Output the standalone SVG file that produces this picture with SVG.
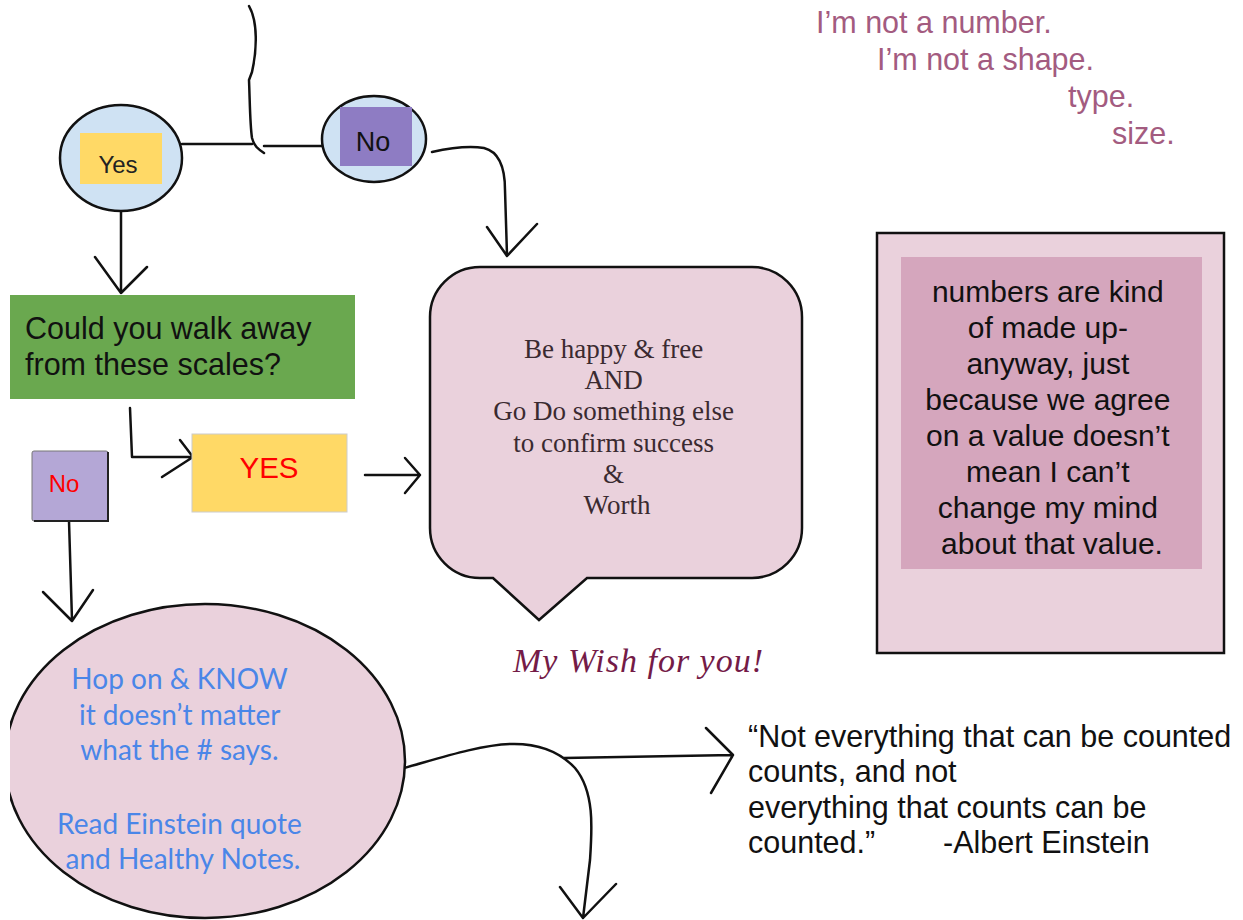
<svg xmlns="http://www.w3.org/2000/svg" width="1243" height="920" viewBox="0 0 1243 920">
<style>
.ln{fill:none;stroke:#111;stroke-width:2.5;stroke-linecap:round;stroke-linejoin:round}
.sans{font-family:"Liberation Sans",Arial,sans-serif}
.serif{font-family:"Liberation Serif","Times New Roman",serif}
.hum{font-family:Lato,"Open Sans",sans-serif}
</style>
<defs>
  <clipPath id="clipLeft"><rect x="10" y="0" width="1233" height="920"/></clipPath>
</defs>
<rect width="1243" height="920" fill="#ffffff"/>

<g id="connectors">
  <path class="ln" d="M249,6 C258,22 257,50 252,72 L249,80 C250,105 250,125 252,138 C254,146 258,149 264,153"/>
  <path class="ln" d="M182,144 H252"/>
  <path class="ln" d="M264,146 H322"/>
  <path class="ln" d="M121,211 V293 M95,257 L121,293 L147,267"/>
  <path class="ln" d="M432,152 C450,148 470,146 484,148 C500,152 505,170 505,190 L507,255 M487,227 L507,256 L537,224"/>
  <path class="ln" d="M130,408 L132,457 H193 M180,440 L193,457 L162,477"/>
  <path class="ln" d="M69,521 L72,620 M43,592 L72,621 L93,590"/>
  <path class="ln" d="M365,475 H420 M405,458 L420,475 L405,493"/>
  <path class="ln" d="M404,768 C440,758 480,745 510,744 C540,743 560,752 575,768 C595,792 592,830 590,860 L583,918 M560,887 L583,918 L616,884"/>
  <path class="ln" d="M564,758 L733,755 M706,728 L733,755 L711,793"/>
</g>

<g id="yes-circle">
  <ellipse cx="121" cy="158" rx="61" ry="53" fill="#cfe2f3" stroke="#111" stroke-width="2.5"/>
  <rect x="80" y="133" width="82" height="51" fill="#ffd966"/>
  <text x="118" y="173" class="sans" font-size="24" text-anchor="middle" fill="#222">Yes</text>
</g>

<g id="no-circle">
  <ellipse cx="374" cy="139" rx="52" ry="43" fill="#cfe2f3" stroke="#111" stroke-width="2.5"/>
  <rect x="340" y="107" width="72" height="59" fill="#8e7cc3"/>
  <text x="373" y="151" class="sans" font-size="27" text-anchor="middle" fill="#111">No</text>
</g>

<g id="question">
  <rect x="10" y="295" width="345" height="104" fill="#6aa84f"/>
  <text class="sans" font-size="30.5" fill="#111"><tspan x="25" y="339">Could you walk away</tspan><tspan x="25" y="375">from these scales?</tspan></text>
</g>

<g id="yes-box">
  <rect x="192" y="434" width="155" height="78" fill="#ffd966" stroke="#cccccc" stroke-width="1"/>
  <text x="269" y="478" class="sans" font-size="29.5" text-anchor="middle" fill="#ff0000">YES</text>
</g>

<g id="no-box">
  <rect x="32" y="451" width="76" height="70" rx="2" fill="#b4a7d6" stroke="#777" stroke-width="1"/>
  <path d="M108,452 V521 H34" fill="none" stroke="#222" stroke-width="2"/>
  <text x="64" y="492" class="sans" font-size="24" text-anchor="middle" fill="#ff0000">No</text>
</g>

<g id="wish-bubble">
  <path d="M480,267 H752 A50,50 0 0 1 802,317 V528 A50,50 0 0 1 752,578 H587 L539,620 L493,578 H480 A50,50 0 0 1 430,528 V317 A50,50 0 0 1 480,267 Z" fill="#ead1dc" stroke="#111" stroke-width="2.5"/>
  <text class="serif" font-size="27" text-anchor="middle" fill="#3a2a30">
    <tspan x="617" y="358">Be happy &amp; free</tspan>
    <tspan x="617" y="389">AND</tspan>
    <tspan x="617" y="420">Go Do something else</tspan>
    <tspan x="617" y="452">to confirm success</tspan>
    <tspan x="617" y="483">&amp;</tspan>
    <tspan x="617" y="514">Worth</tspan>
  </text>
</g>

<g id="wish-caption">
  <text x="513" y="672" class="serif" font-size="34" font-style="italic" fill="#741b47" textLength="250">My Wish for you!</text>
</g>

<g id="top-right-text">
  <text class="sans" font-size="30.5" fill="#a35b80">
    <tspan x="816" y="33">I’m not a number.</tspan>
    <tspan x="877" y="70">I’m not a shape.</tspan>
    <tspan x="1068" y="107">type.</tspan>
    <tspan x="1112" y="144">size.</tspan>
  </text>
</g>

<g id="numbers-box">
  <rect x="877" y="233" width="347" height="420" fill="#ead1dc" stroke="#111" stroke-width="2.5"/>
  <rect x="901" y="257" width="301" height="312" fill="#d5a6bd"/>
  <text class="sans" font-size="30" text-anchor="middle" fill="#111">
    <tspan x="1052" y="302">numbers are kind</tspan>
    <tspan x="1052" y="338">of made up-</tspan>
    <tspan x="1052" y="374">anyway, just</tspan>
    <tspan x="1052" y="410">because we agree</tspan>
    <tspan x="1052" y="446">on a value doesn’t</tspan>
    <tspan x="1052" y="482">mean I can’t</tspan>
    <tspan x="1052" y="518">change my mind</tspan>
    <tspan x="1052" y="554">about that value.</tspan>
  </text>
</g>

<g id="hop-on">
  <ellipse cx="205" cy="761" rx="200" ry="157" fill="#ead1dc" stroke="#111" stroke-width="2.5" clip-path="url(#clipLeft)"/>
  <text class="hum" font-size="28" text-anchor="middle" fill="#4a86e8">
    <tspan x="183" y="689">Hop on &amp; KNOW</tspan>
    <tspan x="183" y="725">it doesn’t matter</tspan>
    <tspan x="183" y="760">what the # says.</tspan>
    <tspan x="183" y="834">Read Einstein quote</tspan>
    <tspan x="183" y="869">and Healthy Notes.</tspan>
  </text>
</g>

<g id="einstein-quote">
  <text class="sans" font-size="30.5" fill="#111">
    <tspan x="748" y="747">“Not everything that can be counted</tspan>
    <tspan x="748" y="782">counts, and not</tspan>
    <tspan x="748" y="818">everything that counts can be</tspan>
    <tspan x="748" y="853">counted.”</tspan>
    <tspan x="943" y="853">-Albert Einstein</tspan>
  </text>
</g>
</svg>
